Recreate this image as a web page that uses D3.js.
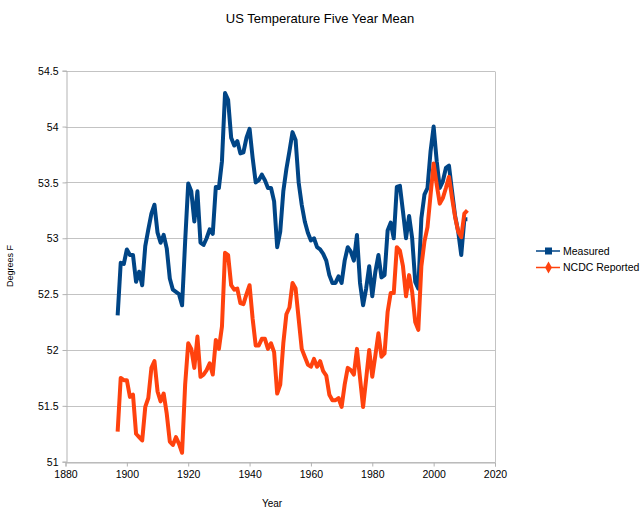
<!DOCTYPE html>
<html><head><meta charset="utf-8">
<script src="https://cdn.jsdelivr.net/npm/d3@7"></script>
<style>body{margin:0;background:#fff;}svg{display:block;}</style>
</head><body><svg id="c" width="640" height="518"></svg>
<script>
const years = d3.range(1897, 2012);
const measured = [
52.31,52.78,52.77,52.90,52.85,52.85,52.61,52.70,52.58,52.93,
53.08,53.22,53.30,53.05,52.96,53.03,52.91,52.64,52.54,52.52,
52.50,52.40,52.97,53.49,53.42,53.15,53.42,52.96,52.94,53.00,
53.08,53.04,53.46,53.45,53.69,54.30,54.24,53.90,53.83,53.87,
53.76,53.77,53.90,53.98,53.72,53.50,53.52,53.57,53.52,53.45,
53.45,53.33,52.92,53.06,53.42,53.62,53.78,53.95,53.88,53.50,
53.30,53.15,53.05,52.98,53.00,52.92,52.90,52.86,52.80,52.67,
52.60,52.60,52.66,52.60,52.80,52.92,52.88,52.80,53.03,52.60,
52.40,52.55,52.75,52.48,52.70,52.85,52.65,52.67,53.07,53.14,
53.00,53.46,53.47,53.24,53.00,53.20,53.00,52.61,52.55,53.18,
53.39,53.45,53.78,54.00,53.69,53.45,53.51,53.63,53.65,53.42,
53.20,53.06,52.85,53.17,53.17];
const ncdc = [
51.27,51.75,51.73,51.73,51.58,51.60,51.25,51.22,51.19,51.49,
51.57,51.84,51.90,51.63,51.54,51.61,51.43,51.18,51.15,51.22,
51.16,51.08,51.69,52.06,52.01,51.84,52.12,51.76,51.78,51.82,
51.88,51.78,52.09,52.01,52.21,52.87,52.85,52.58,52.54,52.55,
52.42,52.41,52.50,52.58,52.28,52.04,52.04,52.10,52.10,52.01,
52.06,51.98,51.61,51.69,52.06,52.32,52.38,52.60,52.55,52.28,
52.01,51.94,51.87,51.85,51.92,51.85,51.90,51.81,51.77,51.60,
51.55,51.55,51.57,51.49,51.69,51.84,51.82,51.78,52.01,51.75,
51.49,51.74,52.00,51.76,51.95,52.15,51.94,51.97,52.34,52.51,
52.51,52.92,52.89,52.75,52.48,52.67,52.52,52.25,52.18,52.75,
52.97,53.10,53.39,53.67,53.48,53.31,53.36,53.45,53.55,53.36,
53.19,53.06,53.01,53.22,53.25];
const seriesNames = ["Measured", "NCDC Reported"];
const xTicks = [1880,1900,1920,1940,1960,1980,2000,2020];
const yTicks = [51,51.5,52,52.5,53,53.5,54,54.5];
const yTickLabels = ["51","51.5","52","52.5","53","53.5","54","54.5"];

const colors = ["#004586", "#ff420e"];
const svg = d3.select("#c");
const font = "'Liberation Sans', Arial, sans-serif";
const L = 65.5, R = 495, T = 70.7, B = 461.7;
const x = d3.scaleLinear().domain([1880, 2020]).range([L, R]);
const y = d3.scaleLinear().domain([51, 54.5]).range([B, T]);

// grid
svg.append("g").selectAll("line").data(yTicks).join("line")
  .attr("x1", L).attr("x2", R)
  .attr("y1", d => Math.round(y(d)) + 0.5).attr("y2", d => Math.round(y(d)) + 0.5)
  .attr("stroke", "#c3c3c3").attr("stroke-width", 1);
// right border
svg.append("line").attr("x1", R + 0.5).attr("x2", R + 0.5).attr("y1", Math.round(T) + 0.5).attr("y2", Math.round(B) + 0.5)
  .attr("stroke", "#c3c3c3");

// axes
const yAxis = d3.axisLeft(y).tickValues(yTicks).tickFormat((d, i) => yTickLabels[i]).tickSize(4).tickPadding(4);
const gy = svg.append("g").attr("transform", `translate(${Math.round(L) + 0.5},0)`).call(yAxis);
const xAxis = d3.axisBottom(x).tickValues(xTicks).tickFormat(d3.format("d")).tickSize(4).tickPadding(4);
const gx = svg.append("g").attr("transform", `translate(0,${Math.round(B) + 0.5})`).call(xAxis);
[gx, gy].forEach(g => {
  g.select(".domain").attr("stroke", "#b3b3b3");
  g.selectAll(".tick line").attr("stroke", "#b3b3b3");
  g.selectAll("text").attr("fill", "#000").style("font-family", font).style("font-size", "10.5px");
});
gy.selectAll(".tick text").attr("dy", "0.35em");

// lines
const data = [measured, ncdc];
const line = d3.line().x((d, i) => x(years[i])).y(d => y(d));
data.forEach((s, k) => {
  svg.append("path").datum(s).attr("d", line)
    .attr("fill", "none").attr("stroke", colors[k]).attr("stroke-width", 4)
    .attr("stroke-linejoin", "round").attr("stroke-linecap", "butt");
});

// titles
svg.append("text").attr("x", 320).attr("y", 23).attr("text-anchor", "middle")
  .style("font-family", font).style("font-size", "13px").attr("fill", "#000")
  .text("US Temperature Five Year Mean");
svg.append("text").attr("x", 272).attr("y", 507).attr("text-anchor", "middle")
  .style("font-family", font).style("font-size", "10px").attr("fill", "#000").text("Year");
svg.append("text").attr("transform", "translate(13,266) rotate(-90)").attr("text-anchor", "middle")
  .style("font-family", font).style("font-size", "9px").attr("fill", "#000").text("Degrees F");

// legend
const lg = svg.append("g");
seriesNames.forEach((n, k) => {
  const ly = 251 + k * 16.5;
  lg.append("line").attr("x1", 536).attr("x2", 560).attr("y1", ly).attr("y2", ly)
    .attr("stroke", colors[k]).attr("stroke-width", 1.5);
  if (k === 0) {
    lg.append("rect").attr("x", 545).attr("y", ly - 3.5).attr("width", 7).attr("height", 7).attr("fill", colors[k]);
  } else {
    lg.append("path").attr("d", d3.symbol(d3.symbolDiamond, 40)()).attr("transform", `translate(548.5,${ly})`).attr("fill", colors[k]);
  }
  lg.append("text").attr("x", 563).attr("y", ly).attr("dy", "0.35em")
    .style("font-family", font).style("font-size", "10.5px").attr("fill", "#000").text(n);
});
</script></body></html>
